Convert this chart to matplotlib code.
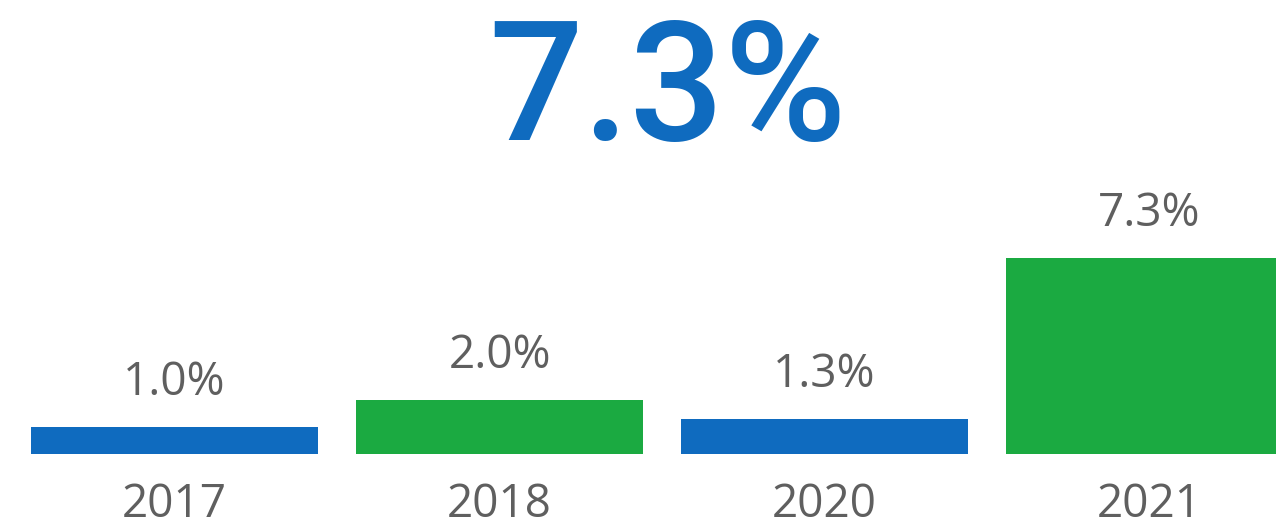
import matplotlib
matplotlib.use("Agg")
import matplotlib.pyplot as plt

# Dados do gráfico
anos = ["2017", "2018", "2020", "2021"]
valores = [1.0, 2.0, 1.3, 7.3]
rotulos = ["1.0%", "2.0%", "1.3%", "7.3%"]
cores = ["#0F6BBF", "#1BAA41", "#0F6BBF", "#1BAA41"]
destaque = "7.3%"

AZUL = "#0F6BBF"
CINZA = "#5F5F5F"

fig = plt.figure(figsize=(12.76, 5.28), dpi=100)
ax = fig.add_axes([0, 0, 1, 1])

posicoes = list(range(len(anos)))
ax.bar(posicoes, valores, width=0.883, color=cores)

# Rótulos de valor acima das barras e anos abaixo
for x, v, r in zip(posicoes, valores, rotulos):
    ax.annotate(r, (x, v), xytext=(0, 23), textcoords="offset points",
                ha="center", va="baseline", fontsize=33, color=CINZA,
                family="Open Sans")
for x, a in zip(posicoes, anos):
    ax.annotate(a, (x, 0), xytext=(0, -45.4), textcoords="offset points",
                ha="center", va="baseline", fontsize=33, color=CINZA,
                family="Open Sans", annotation_clip=False)

ax.set_xlim(-0.537, 3.389)
ax.set_ylim(-2.75, 16.88)
ax.axis("off")

# Número em destaque
fig.text(667.5 / 1276, (528 - 140) / 528, destaque, ha="center", va="baseline",
         fontsize=120, color=AZUL, family="Roboto", fontweight="medium")

fig.savefig("out.png", dpi=100)
